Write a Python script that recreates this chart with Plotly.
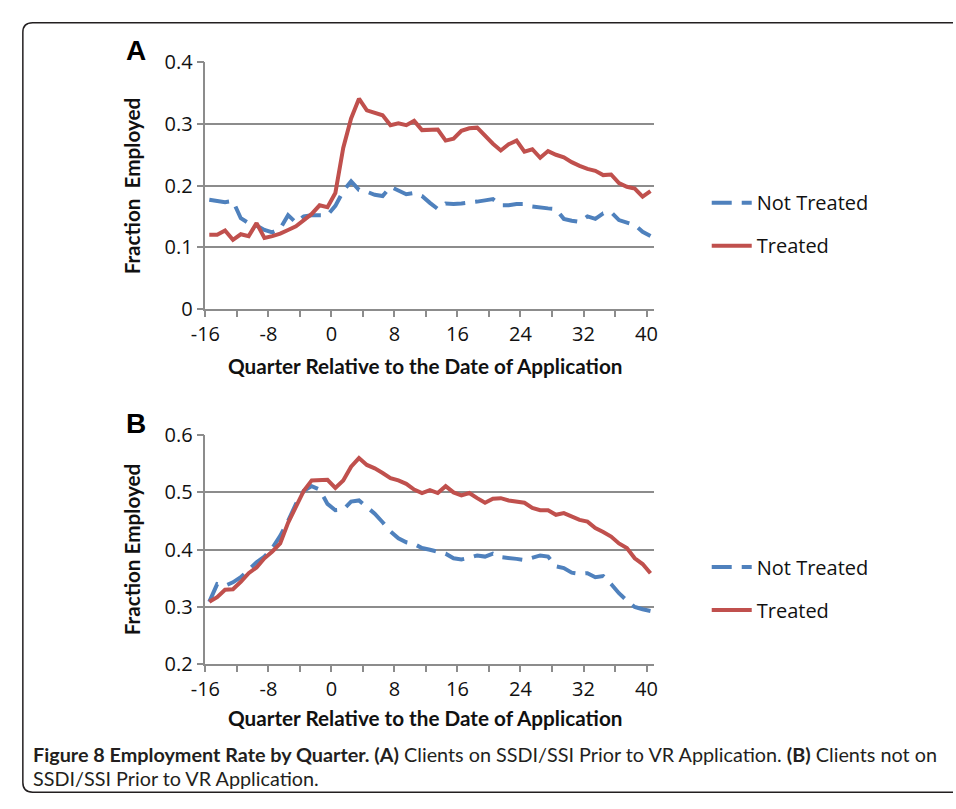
import plotly.graph_objects as go

# Quarters relative to the date of VR application
quarters = list(range(-16, 41))

# Panel A: clients on SSDI/SSI prior to VR application
a_not_treated = [0.177, 0.175, 0.173, 0.175, 0.147, 0.139, 0.135, 0.128, 0.124, 0.130,
                 0.152, 0.140, 0.150, 0.152, 0.152, 0.152, 0.167, 0.191, 0.207, 0.193,
                 0.190, 0.185, 0.183, 0.198, 0.192, 0.186, 0.188, 0.183, 0.172, 0.162,
                 0.171, 0.170, 0.171, 0.172, 0.174, 0.176, 0.178, 0.168, 0.168, 0.170,
                 0.170, 0.166, 0.164, 0.163, 0.162, 0.146, 0.143, 0.141, 0.150, 0.146,
                 0.155, 0.157, 0.144, 0.140, 0.136, 0.125, 0.118]
a_treated = [0.120, 0.120, 0.127, 0.112, 0.121, 0.118, 0.139, 0.115, 0.118, 0.122,
             0.128, 0.134, 0.144, 0.154, 0.168, 0.165, 0.188, 0.261, 0.309, 0.341,
             0.322, 0.318, 0.314, 0.298, 0.301, 0.298, 0.305, 0.290, 0.291, 0.291,
             0.273, 0.276, 0.289, 0.293, 0.294, 0.280, 0.268, 0.257, 0.267, 0.273,
             0.255, 0.259, 0.245, 0.256, 0.250, 0.246, 0.238, 0.232, 0.227, 0.224,
             0.217, 0.218, 0.204, 0.198, 0.195, 0.182, 0.191]

# Panel B: clients not on SSDI/SSI prior to VR application
b_not_treated = [0.309, 0.340, 0.337, 0.343, 0.352, 0.365, 0.378, 0.388, 0.403, 0.424,
                 0.450, 0.480, 0.503, 0.511, 0.505, 0.480, 0.469, 0.470, 0.484, 0.486,
                 0.475, 0.463, 0.448, 0.432, 0.420, 0.413, 0.410, 0.403, 0.400, 0.397,
                 0.393, 0.385, 0.383, 0.386, 0.390, 0.388, 0.393, 0.387, 0.386, 0.384,
                 0.382, 0.386, 0.390, 0.388, 0.371, 0.368, 0.360, 0.358, 0.359, 0.352,
                 0.354, 0.340, 0.324, 0.311, 0.300, 0.296, 0.293]
b_treated = [0.309, 0.317, 0.330, 0.331, 0.344, 0.359, 0.369, 0.385, 0.397, 0.411,
             0.447, 0.477, 0.503, 0.521, 0.521, 0.522, 0.508, 0.521, 0.545, 0.560,
             0.548, 0.542, 0.534, 0.525, 0.521, 0.515, 0.505, 0.499, 0.504, 0.499,
             0.511, 0.500, 0.495, 0.499, 0.490, 0.482, 0.489, 0.490, 0.486, 0.484,
             0.482, 0.473, 0.469, 0.469, 0.461, 0.464, 0.458, 0.452, 0.449, 0.438,
             0.431, 0.423, 0.411, 0.403, 0.385, 0.375, 0.359]

# Category-style axis: ticks sit on boundaries every 4 quarters, labels every 8
x_tickvals = [-16.5 + 4 * k for k in range(15)]
x_ticktext = [str(-16 + 4 * k) if k % 2 == 0 else "" for k in range(15)]
a_ticks = [0, 0.1, 0.2, 0.3, 0.4]
b_ticks = [0.2, 0.3, 0.4, 0.5, 0.6]

W, H = 956, 809
BLUE = "#4F81BD"
RED = "#C0504D"
GRID = "#8C8C8C"
TXT = "#111111"


def px(x):
    return x / W


def py(y):
    return 1 - y / H


fig = go.Figure()

fig.add_trace(go.Scatter(x=quarters, y=a_not_treated, name="Not Treated", mode="lines",
                         line=dict(color=BLUE, width=4, dash="20px,10px"),
                         xaxis="x", yaxis="y", legend="legend", legendgroup="a1"))
fig.add_trace(go.Scatter(x=quarters, y=a_treated, name="Treated", mode="lines",
                         line=dict(color=RED, width=4),
                         xaxis="x", yaxis="y", legend="legend", legendgroup="a2"))
fig.add_trace(go.Scatter(x=quarters, y=b_not_treated, name="Not Treated", mode="lines",
                         line=dict(color=BLUE, width=4, dash="20px,10px"),
                         xaxis="x2", yaxis="y2", legend="legend2", legendgroup="b1"))
fig.add_trace(go.Scatter(x=quarters, y=b_treated, name="Treated", mode="lines",
                         line=dict(color=RED, width=4),
                         xaxis="x2", yaxis="y2", legend="legend2", legendgroup="b2"))

xdom = [px(194), px(651.7)]
xaxis_common = dict(
    domain=xdom, range=[-16.5, 40.5], tickmode="array",
    tickvals=x_tickvals, ticktext=x_ticktext,
    showgrid=False, zeroline=False, showline=True, linecolor=GRID, linewidth=1.5,
    ticks="outside", ticklen=6, tickwidth=1.5, tickcolor=GRID,
    tickfont=dict(family="Open Sans", size=20, color=TXT),
)
yaxis_common = dict(
    showgrid=True, gridcolor=GRID, gridwidth=1.5, zeroline=False,
    showline=True, linecolor=GRID, linewidth=1.5,
    ticks="outside", ticklen=7, tickwidth=1.5, tickcolor=GRID,
    tickfont=dict(family="Open Sans", size=20, color=TXT),
)

legend_common = dict(
    font=dict(family="Open Sans", size=20, color=TXT),
    bgcolor="rgba(0,0,0,0)", borderwidth=0, tracegroupgap=14,
    xanchor="left", yanchor="top", itemwidth=40,
)

fig.update_layout(
    width=W, height=H,
    margin=dict(l=0, r=0, t=0, b=0),
    paper_bgcolor="white", plot_bgcolor="white",
    xaxis=dict(anchor="y", **xaxis_common),
    yaxis=dict(domain=[py(305), py(50)], range=[0, 0.4], tickvals=a_ticks,
               ticktext=["0", "0.1", "0.2", "0.3", "0.4"], anchor="x", **yaxis_common),
    xaxis2=dict(anchor="y2", **xaxis_common),
    yaxis2=dict(domain=[py(672.7), py(435.7)], range=[0.2, 0.6], tickvals=b_ticks,
                ticktext=["0.2", "0.3", "0.4", "0.5", "0.6"], anchor="x2", **yaxis_common),
    legend=dict(x=px(705), y=py(175), **legend_common),
    legend2=dict(x=px(705), y=py(552), **legend_common),
    showlegend=True,
)

title_font = dict(family="Lato", size=20.7, color=TXT)
ann = []
# Panel letters
ann.append(dict(text="<b>A</b>", x=px(123), y=py(38), font=dict(family="Liberation Sans", size=28, color="#000")))
ann.append(dict(text="<b>B</b>", x=px(123), y=py(424), font=dict(family="Liberation Sans", size=28, color="#000")))
# Axis titles
ann.append(dict(text="<b>Fraction  Employed</b>", x=px(119), y=py(177.5), textangle=-90, font=title_font))
ann.append(dict(text="<b>Fraction Employed</b>", x=px(119), y=py(554), textangle=-90, font=title_font))
ann.append(dict(text="<b>Quarter Relative to the Date of Application</b>", x=px(418), y=py(364), font=title_font))
ann.append(dict(text="<b>Quarter Relative to the Date of Application</b>", x=px(418), y=py(728), font=title_font))
# Figure caption
cap_font = dict(family="Lato", size=19.8, color="#231F20")
ann.append(dict(text="<b>Figure 8 Employment Rate by Quarter. (A)</b> Clients on SSDI/SSI Prior to VR Application. "
                     "<b>(B)</b> Clients not on",
                x=px(16), y=py(766), xanchor="left", font=cap_font))
ann.append(dict(text="SSDI/SSI Prior to VR Application.", x=px(16), y=py(790), xanchor="left", font=cap_font))

for a in ann:
    a.setdefault("xanchor", "center")
    a.update(xref="paper", yref="paper", yanchor="middle", showarrow=False)
fig.update_layout(annotations=ann)

# Rounded frame around the figure, running off the right edge of the page
L, T, B = px(8), py(9), py(805)
r_x, r_y = px(18) - px(8), py(9) - py(19)
frame = (f"M 1,{T} L {L + r_x},{T} Q {L},{T} {L},{T - r_y} "
         f"L {L},{B + r_y} Q {L},{B} {L + r_x},{B} L 1,{B}")
fig.add_shape(type="path", path=frame, xref="paper", yref="paper",
              line=dict(color="#231F20", width=1.5))

fig.write_html("out.html", post_script="document.body.style.margin='0';")
